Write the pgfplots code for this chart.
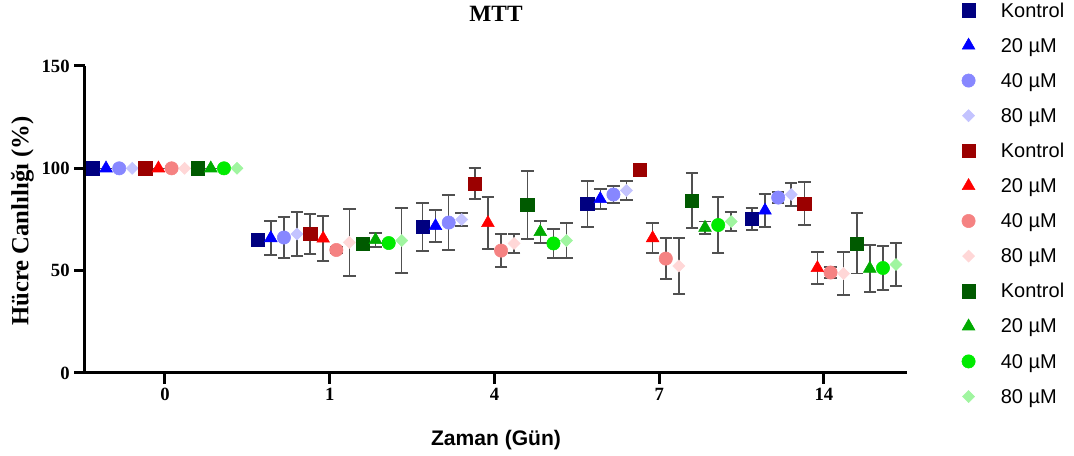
\documentclass[border=0pt]{standalone}
\usepackage{fontspec}
\setmainfont{Liberation Serif}
\setsansfont{Liberation Sans}
\usepackage{pgfplots}
\usepackage{pgfplotstable}
\pgfplotsset{compat=1.18}

\definecolor{cBK}{RGB}{0,0,128}
\definecolor{cB20}{RGB}{0,0,255}
\definecolor{cB40}{RGB}{135,135,255}
\definecolor{cB80}{RGB}{195,195,255}
\definecolor{cRK}{RGB}{155,0,0}
\definecolor{cR20}{RGB}{255,0,0}
\definecolor{cR40}{RGB}{245,130,130}
\definecolor{cR80}{RGB}{255,215,215}
\definecolor{cGK}{RGB}{0,90,0}
\definecolor{cG20}{RGB}{0,170,0}
\definecolor{cG40}{RGB}{0,235,0}
\definecolor{cG80}{RGB}{160,245,160}
\definecolor{errgray}{RGB}{80,80,80}

% g: group index (0 -> day 0, 1 -> day 1, 2 -> day 4, 3 -> day 7, 4 -> day 14)
\pgfplotstableread{
g y e
0 100 0
1 65.0 1.5
2 71.3 11.7
3 82.6 11.2
4 75.2 5.4
}\tBK
\pgfplotstableread{
g y e
0 100 0
1 65.9 8.3
2 71.8 7.8
3 85.0 4.9
4 79.4 8.0
}\tBtw
\pgfplotstableread{
g y e
0 100 0
1 66.2 10.0
2 73.5 13.4
3 87.2 4.2
4 85.7 2.7
}\tBfo
\pgfplotstableread{
g y e
0 100 0
1 67.9 10.7
2 75.0 3.2
3 89.2 4.6
4 87.2 5.6
}\tBei
\pgfplotstableread{
g y e
0 100 0
1 67.9 9.8
2 92.6 7.6
3 99.2 0
4 82.8 10.5
}\tRK
\pgfplotstableread{
g y e
0 100 0
1 65.7 11.0
2 73.3 12.7
3 65.9 7.3
4 51.3 7.8
}\tRtw
\pgfplotstableread{
g y e
0 100 0
1 60.1 1.5
2 59.8 8.0
3 55.9 10.0
4 49.1 2.7
}\tRfo
\pgfplotstableread{
g y e
0 100 0
1 63.8 16.4
2 63.3 4.6
3 52.3 13.7
4 48.6 10.5
}\tRei
\pgfplotstableread{
g y e
0 100 0
1 63.0 1.5
2 82.1 16.6
3 84.3 13.4
4 63.3 14.8
}\tGK
\pgfplotstableread{
g y e
0 100 0
1 65.0 3.4
2 68.9 5.4
3 71.0 3.0
4 51.0 11.5
}\tGtw
\pgfplotstableread{
g y e
0 100 0
1 63.5 1.0
2 63.3 7.0
3 72.3 13.7
4 51.3 10.7
}\tGfo
\pgfplotstableread{
g y e
0 100 0
1 64.7 15.9
2 64.7 8.5
3 74.0 4.6
4 53.0 10.5
}\tGei

\pgfplotsset{
  sq/.style={only marks, mark=square*, mark size=5pt},
  tri/.style={only marks, mark=triangle*, mark size=5.5pt},
  circ/.style={only marks, mark=*, mark size=5pt},
  dia/.style={only marks, mark=square*, mark size=3.2pt, mark options={rotate=45}},
}

\begin{document}
\begin{tikzpicture}
\useasboundingbox (-63.75pt,-62.25pt) rectangle ++(805.5pt,342pt);
\begin{axis}[
  at={(0,0)}, anchor=south west,
  width=616.5pt, height=230.25pt, scale only axis,
  xmin=-0.4856, xmax=4.504, ymin=0, ymax=150,
  axis x line*=bottom, axis y line*=left,
  axis line style={line width=2.25pt},
  xtick={0,1,2,3,4}, xticklabels={0,1,4,7,14},
  ytick={0,50,100,150},
  tick align=outside, major tick length=8pt,
  tick style={line width=2.25pt, black},
  every tick label/.append style={font=\fontsize{14}{16}\selectfont\bfseries},
  /pgf/number format/assume math mode=true,
  title={MTT},
  title style={font=\fontsize{17.5}{20}\selectfont\bfseries, at={(axis description cs:0.5,1)}, anchor=base, yshift=27pt},
  xlabel={Zaman (Gün)},
  xlabel style={font=\sffamily\bfseries\fontsize{15.8}{18}\selectfont, at={(axis description cs:0.5,0)}, anchor=base, yshift=-54.75pt},
  ylabel={Hücre Canlılığı (\%)},
  ylabel style={font=\fontsize{18.5}{22}\selectfont\bfseries, at={(axis description cs:-0.069,0.495)}, anchor=base},
  clip=false,
  legend style={draw=none, fill=none, at={(axis description cs:1.0604,1.206)}, anchor=north west,
    inner xsep=0pt, inner ysep=0pt, row sep=12.83pt, column sep=0pt,
    font=\sffamily\fontsize{15}{17}\selectfont,
    nodes={inner sep=0pt, text height=10.5pt, text depth=3pt}},
  legend cell align=left,
  legend image code/.code={\path (0pt,1.25pt) (32.54pt,1.25pt);
    \draw[mark repeat=2,mark phase=2,#1] plot coordinates {(0pt,1.25pt) (8.54pt,1.25pt) (32.54pt,1.25pt)};},
  error bars/y dir=both, error bars/y explicit,
  error bars/error bar style={line width=1.1pt, errgray},
  error bars/error mark options={rotate=90, mark size=4.7pt, line width=1.1pt, errgray},
]
\addplot[sq, color=cBK] table[x expr=\thisrow{g}-0.437, y=y, y error=e] {\tBK};
\addlegendentry{Kontrol}
\addplot[tri, color=cB20] table[x expr=\thisrow{g}-0.358, y=y, y error=e] {\tBtw};
\addlegendentry{20 µM}
\addplot[circ, color=cB40] table[x expr=\thisrow{g}-0.278, y=y, y error=e] {\tBfo};
\addlegendentry{40 µM}
\addplot[dia, color=cB80] table[x expr=\thisrow{g}-0.199, y=y, y error=e] {\tBei};
\addlegendentry{80 µM}
\addplot[sq, color=cRK] table[x expr=\thisrow{g}-0.119, y=y, y error=e] {\tRK};
\addlegendentry{Kontrol}
\addplot[tri, color=cR20] table[x expr=\thisrow{g}-0.040, y=y, y error=e] {\tRtw};
\addlegendentry{20 µM}
\addplot[circ, color=cR40] table[x expr=\thisrow{g}+0.040, y=y, y error=e] {\tRfo};
\addlegendentry{40 µM}
\addplot[dia, color=cR80] table[x expr=\thisrow{g}+0.119, y=y, y error=e] {\tRei};
\addlegendentry{80 µM}
\addplot[sq, color=cGK] table[x expr=\thisrow{g}+0.199, y=y, y error=e] {\tGK};
\addlegendentry{Kontrol}
\addplot[tri, color=cG20] table[x expr=\thisrow{g}+0.278, y=y, y error=e] {\tGtw};
\addlegendentry{20 µM}
\addplot[circ, color=cG40] table[x expr=\thisrow{g}+0.358, y=y, y error=e] {\tGfo};
\addlegendentry{40 µM}
\addplot[dia, color=cG80] table[x expr=\thisrow{g}+0.437, y=y, y error=e] {\tGei};
\addlegendentry{80 µM}
\end{axis}
\end{tikzpicture}
\end{document}
